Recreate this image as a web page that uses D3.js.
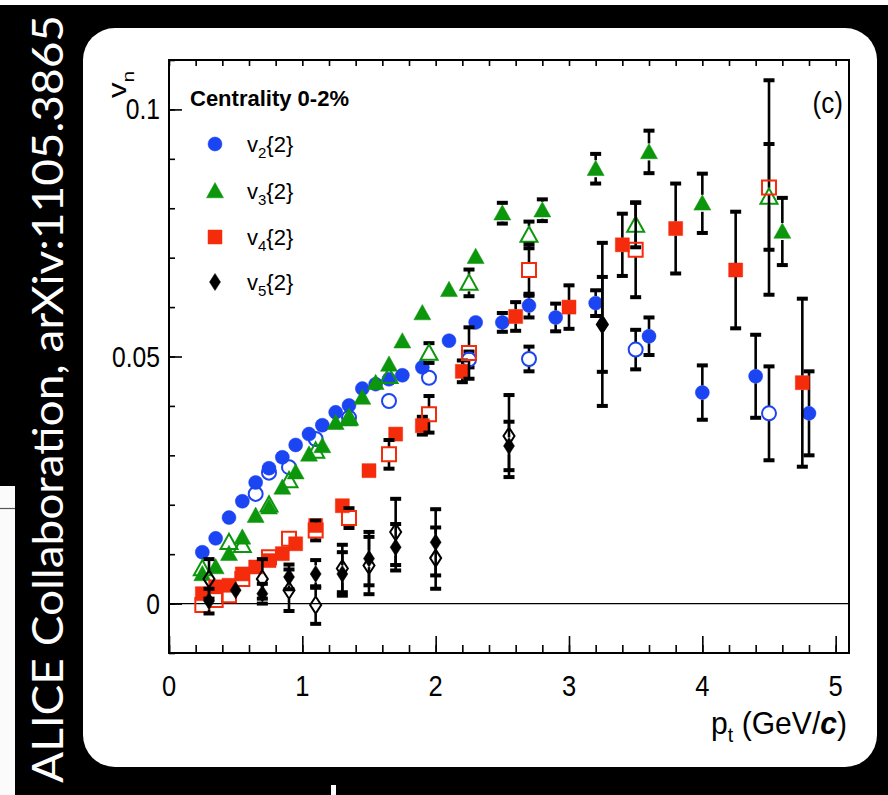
<!DOCTYPE html>
<html><head><meta charset="utf-8">
<script src="https://cdn.jsdelivr.net/npm/d3@7"></script>
<style>html,body{margin:0;padding:0;background:#000;}svg{display:block;}</style>
</head><body>
<svg id="chart" width="888" height="795"></svg>
<script>
// ALICE: v_n{2} of charged particles vs p_t, Pb-Pb centrality 0-2%

const xTickValues = [0, 1, 2, 3, 4, 5];
const yTickValues = [0, 0.05, 0.1];
const yTickLabels = ["0", "0.05", "0.1"];
const legendLabels = ["2", "3", "4", "5"];   // harmonic n of v_n{2}

// [p_t (GeV/c), v_n, stat. error]
const v2Filled = [
  [0.25,0.0104,0.0003],[0.35,0.0132,0.0003],[0.45,0.0174,0.0003],[0.55,0.0207,0.0003],
  [0.65,0.0245,0.0003],[0.75,0.0274,0.0003],[0.85,0.0296,0.0003],[0.95,0.0321,0.0004],
  [1.05,0.0343,0.0004],[1.15,0.0361,0.0004],[1.25,0.0387,0.0005],[1.35,0.0401,0.0005],
  [1.45,0.0435,0.0005],[1.55,0.0444,0.0006],[1.65,0.0454,0.0006],[1.75,0.0462,0.0007],
  [1.9,0.0478,0.0008],[2.1,0.0532,0.0009],[2.3,0.0569,0.0011],[2.5,0.0569,0.0019],
  [2.7,0.0603,0.0024],[2.9,0.0579,0.0028],[3.2,0.0608,0.0026],[3.6,0.0541,0.0038],
  [4.0,0.0427,0.0055],[4.4,0.046,0.0084],[4.8,0.0385,0.0085]
];
const v2Open = [
  [0.65,0.0222,0.0006],[0.75,0.0265,0.0006],[0.9,0.0276,0.0007],[1.1,0.0333,0.0008],
  [1.35,0.0376,0.0009],[1.65,0.041,0.0011],[1.95,0.0457,0.0013],[2.25,0.0494,0.0016],
  [2.7,0.0495,0.0025],[3.5,0.0514,0.004],[4.5,0.0385,0.0095]
];
const v3Filled = [
  [0.25,0.006,0.0003],[0.35,0.0074,0.0003],[0.45,0.0101,0.0003],[0.55,0.0134,0.0004],
  [0.65,0.0178,0.0004],[0.75,0.0195,0.0004],[0.85,0.0235,0.0005],[0.95,0.0266,0.0005],
  [1.05,0.0302,0.0005],[1.15,0.0319,0.0006],[1.25,0.0366,0.0006],[1.35,0.0373,0.0007],
  [1.45,0.0417,0.0007],[1.55,0.0447,0.0008],[1.65,0.0484,0.0008],[1.75,0.0531,0.0009],
  [1.9,0.0588,0.001],[2.1,0.0635,0.0011],[2.3,0.0702,0.0013],[2.5,0.079,0.0021],
  [2.8,0.0796,0.0022],[3.2,0.088,0.003],[3.6,0.0914,0.0043],[4.0,0.081,0.006],
  [4.6,0.0753,0.0068]
];
const v3Open = [
  [0.25,0.0071,0.0006],[0.45,0.0124,0.0006],[0.55,0.0118,0.0006],[0.75,0.02,0.0007],
  [0.9,0.0249,0.0008],[1.1,0.0309,0.0009],[1.35,0.0376,0.001],[1.65,0.046,0.0013],
  [1.95,0.0507,0.002],[2.25,0.0649,0.0027],[2.7,0.0746,0.0027],[3.5,0.0766,0.0045],
  [4.5,0.0823,0.0107]
];
const v4Filled = [
  [0.25,0.002,0.0004],[0.35,0.0034,0.0004],[0.45,0.0037,0.0004],[0.55,0.006,0.0005],
  [0.65,0.0074,0.0005],[0.75,0.0087,0.0006],[0.85,0.0101,0.0006],[0.95,0.0121,0.0007],
  [1.1,0.0158,0.0008],[1.3,0.0198,0.001],[1.5,0.0269,0.0012],[1.7,0.0343,0.0014],
  [1.9,0.036,0.0018],[2.2,0.047,0.0022],[2.6,0.0581,0.0029],[3.0,0.06,0.0044],
  [3.4,0.0726,0.0063],[3.8,0.0759,0.0091],[4.25,0.0675,0.0118],[4.75,0.0447,0.017]
];
const v4Open = [
  [0.25,-0.0003,0.0008],[0.35,0.0007,0.0008],[0.45,0.0017,0.0008],[0.55,0.005,0.0009],
  [0.75,0.0094,0.001],[0.9,0.0131,0.0012],[1.1,0.0148,0.002],[1.35,0.0173,0.002],
  [1.65,0.0302,0.0029],[1.95,0.0383,0.0037],[2.25,0.0507,0.0052],[2.7,0.0675,0.0052],
  [3.5,0.0716,0.0096],[4.5,0.0842,0.0217]
];
const v5Filled = [
  [0.3,0.0005,0.0025],[0.5,0.0027,0.0015],[0.7,0.002,0.002],[0.9,0.0054,0.0025],
  [1.1,0.006,0.0028],[1.3,0.006,0.0044],[1.5,0.0091,0.0054],[1.7,0.0114,0.0047],
  [2.0,0.0124,0.0067],[2.55,0.0319,0.0049],[3.25,0.0565,0.0096]
];
const v5Open = [
  [0.3,0.005,0.004],[0.7,0.005,0.004],[0.9,0.0027,0.0042],[1.1,-0.0003,0.0038],
  [1.3,0.0071,0.0048],[1.5,0.0077,0.0058],[1.7,0.0145,0.0067],[2.0,0.0092,0.0062],
  [2.55,0.0339,0.0083],[3.25,0.0565,0.0165]
];

const BLUE = "#1b44f2", GREEN = "#0c960c", RED = "#f42c0c", BLACK = "#000";

const svg = d3.select("#chart");

// ---- frame: black page, white rounded panel ----
svg.append("rect").attr("width", 888).attr("height", 795).attr("fill", "#000");
svg.append("rect").attr("x", 0).attr("y", 0).attr("width", 888).attr("height", 5).attr("fill", "#fff");
svg.append("rect").attr("x", 0).attr("y", 486).attr("width", 15).attr("height", 309).attr("fill", "#fbfbfb");
svg.append("line").attr("x1", 0).attr("x2", 15).attr("y1", 508.5).attr("y2", 508.5)
  .attr("stroke", "#555").attr("stroke-width", 1.2);
svg.append("rect").attr("x", 331).attr("y", 785).attr("width", 5).attr("height", 10).attr("fill", "#fff");
svg.append("rect").attr("x", 83).attr("y", 28).attr("width", 794).attr("height", 739)
  .attr("rx", 32).attr("ry", 32).attr("fill", "#fff");

// side banner
svg.append("text")
  .attr("transform", "translate(63,783) rotate(-90)")
  .attr("font-family", "Lato, 'Open Sans', sans-serif")
  .attr("font-size", 42).attr("fill", "#fff")
  .attr("textLength", 768).attr("lengthAdjust", "spacingAndGlyphs")
  .text("ALICE Collaboration, arXiv:1105.3865");

// ---- scales ----
const x = d3.scaleLinear().domain([0, 5.1]).range([169, 849]);
const y = d3.scaleLinear().domain([-0.01, 0.11]).range([653, 60]);

const FONT = "'Liberation Sans', Arial, Helvetica, sans-serif";
const SX = 0.85; // narrow lettering of the axis text

// zero line
svg.append("line").attr("x1", x(0)).attr("x2", x(5.1)).attr("y1", y(0)).attr("y2", y(0))
  .attr("stroke", "#000").attr("stroke-width", 1.4);

// axes
const xMinor = d3.range(0, 5.1001, 0.2);
const yMinor = d3.range(-0.01, 0.11001, 0.01);
const axisBottomMinor = svg.append("g").attr("transform", `translate(0,${y(-0.01)})`)
  .call(d3.axisBottom(x).tickValues(xMinor).tickSize(-8).tickFormat(""));
const axisBottomMajor = svg.append("g").attr("transform", `translate(0,${y(-0.01)})`)
  .call(d3.axisBottom(x).tickValues(xTickValues).tickSize(-17).tickFormat(""));
const axisTopMinor = svg.append("g").attr("transform", `translate(0,${y(0.11)})`)
  .call(d3.axisTop(x).tickValues(xMinor).tickSize(-6).tickFormat(""));
const axisLeftMinor = svg.append("g").attr("transform", `translate(${x(0)},0)`)
  .call(d3.axisLeft(y).tickValues(yMinor).tickSize(-6).tickFormat(""));
const axisLeftMajor = svg.append("g").attr("transform", `translate(${x(0)},0)`)
  .call(d3.axisLeft(y).tickValues(yTickValues).tickSize(-13).tickFormat(""));
[axisBottomMinor, axisBottomMajor, axisTopMinor, axisLeftMinor, axisLeftMajor].forEach(g => {
  g.select(".domain").remove();
  g.selectAll(".tick line").attr("stroke", "#000").attr("stroke-width", 1.6);
});
// frame box
svg.append("rect").attr("x", x(0)).attr("y", y(0.11))
  .attr("width", x(5.1) - x(0)).attr("height", y(-0.01) - y(0.11))
  .attr("fill", "none").attr("stroke", "#000").attr("stroke-width", 2);

// tick labels
function narrowText(px, py, txt, size, anchor, sx) {
  return svg.append("text")
    .attr("transform", `translate(${px},${py}) scale(${sx},1)`)
    .attr("font-family", FONT).attr("font-size", size)
    .attr("text-anchor", anchor).attr("fill", "#000").text(txt);
}
xTickValues.forEach(v => narrowText(x(v), 696, String(v), 30, "middle", SX));
yTickValues.forEach((v, i) => narrowText(160, y(v) + 10, yTickLabels[i], 29, "end", SX));

// axis titles
const xTitle = svg.append("text")
  .attr("transform", `translate(847,734) scale(0.94,1)`)
  .attr("font-family", FONT).attr("font-size", 32).attr("text-anchor", "end");
xTitle.append("tspan").text("p");
xTitle.append("tspan").attr("font-size", 21).attr("dy", 8).text("t");
xTitle.append("tspan").attr("dy", -8).text(" (GeV/");
xTitle.append("tspan").attr("font-weight", "bold").attr("font-style", "italic").text("c");
xTitle.append("tspan").text(")");

const yTitle = svg.append("text")
  .attr("transform", `translate(126,98) scale(0.82,1) rotate(-90)`)
  .attr("font-family", FONT).attr("font-size", 31).attr("text-anchor", "start");
yTitle.append("tspan").text("v");
yTitle.append("tspan").attr("font-size", 21).attr("dy", 10).text("n");

// panel tag and centrality
narrowText(843, 113, "(c)", 29, "end", 0.9);
svg.append("text").attr("x", 190).attr("y", 106)
  .attr("font-family", FONT).attr("font-size", 22).attr("font-weight", "bold")
  .text("Centrality 0-2%");

// ---- marker shapes ----
const SIZE = {circle: 7, triangle: 8.5, square: 7, diamond: [5.5, 8.5]};
function markerPath(kind) {
  if (kind === "circle") {
    const r = SIZE.circle;
    return `M${-r},0A${r},${r} 0 1,0 ${r},0A${r},${r} 0 1,0 ${-r},0Z`;
  }
  if (kind === "triangle") {
    const h = SIZE.triangle;
    return `M0,${-h}L${h},${h * 0.8}L${-h},${h * 0.8}Z`;
  }
  if (kind === "square") {
    const s = SIZE.square;
    return `M${-s},${-s}H${s}V${s}H${-s}Z`;
  }
  const [w, h] = SIZE.diamond;
  return `M0,${-h}L${w},0L0,${h}L${-w},0Z`;
}
function halfHeight(kind) {
  return kind === "circle" ? SIZE.circle : kind === "triangle" ? SIZE.triangle :
         kind === "square" ? SIZE.square : SIZE.diamond[1];
}

function drawSeries(data, kind, color, open) {
  const g = svg.append("g");
  const hh = halfHeight(kind);
  // error bars, interrupted by the marker
  data.forEach(([pt, v, e]) => {
    const cx = x(pt), cy = y(v), up = y(v + e), dn = y(v - e);
    if (cy - up <= hh + 0.5) return;
    g.append("line").attr("x1", cx).attr("x2", cx).attr("y1", up).attr("y2", cy - hh)
      .attr("stroke", BLACK).attr("stroke-width", 2.6);
    g.append("line").attr("x1", cx).attr("x2", cx).attr("y1", cy + hh).attr("y2", dn)
      .attr("stroke", BLACK).attr("stroke-width", 2.6);
    [up, dn].forEach(yy => g.append("rect").attr("x", cx - 5.5).attr("y", yy - 2)
      .attr("width", 11).attr("height", 4).attr("fill", BLACK));
  });
  g.selectAll("path.m").data(data).join("path").attr("class", "m")
    .attr("d", markerPath(kind))
    .attr("transform", d => `translate(${x(d[0])},${y(d[1])})`)
    .attr("fill", open ? "none" : color)
    .attr("stroke", color).attr("stroke-width", open ? 2 : 0.5);
}

drawSeries(v2Filled, "circle", BLUE, false);
drawSeries(v2Open, "circle", BLUE, true);
drawSeries(v3Filled, "triangle", GREEN, false);
drawSeries(v3Open, "triangle", GREEN, true);
drawSeries(v4Filled, "square", RED, false);
drawSeries(v4Open, "square", RED, true);
drawSeries(v5Filled, "diamond", BLACK, false);
drawSeries(v5Open, "diamond", BLACK, true);

// ---- legend ----
const legendKinds = [["circle", BLUE], ["triangle", GREEN], ["square", RED], ["diamond", BLACK]];
const legendY = [144, 191, 237, 282];
legendKinds.forEach(([kind, color], i) => {
  svg.append("path").attr("d", markerPath(kind))
    .attr("transform", `translate(215,${legendY[i]})`)
    .attr("fill", color).attr("stroke", color).attr("stroke-width", 0.5);
  const t = svg.append("text").attr("x", 247).attr("y", legendY[i] + 8)
    .attr("font-family", FONT).attr("font-size", 22);
  t.append("tspan").text("v");
  t.append("tspan").attr("font-size", 15).attr("dy", 6).text(legendLabels[i]);
  t.append("tspan").attr("dy", -6).text("{2}");
});
</script>
</body></html>
